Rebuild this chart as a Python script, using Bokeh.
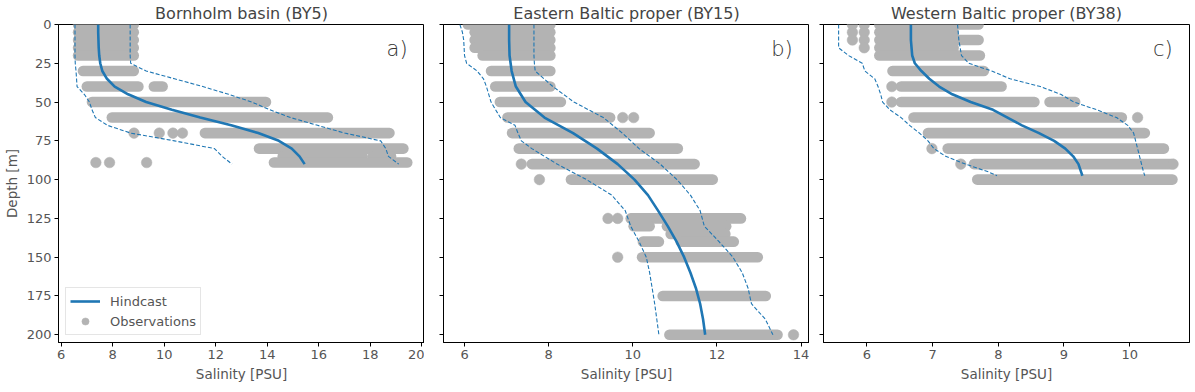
from bokeh.plotting import figure
from bokeh.models import (Range1d, Label, Legend, LegendItem, FixedTicker,
                          ColumnDataSource, CustomJSTickFormatter)
from bokeh.layouts import row
from bokeh.embed import file_html
from bokeh.resources import INLINE

# ---------------- data ----------------
titles = ["Bornholm basin (BY5)", "Eastern Baltic proper (BY15)", "Western Baltic proper (BY38)"]
panel_tags = ["a)", "b)", "c)"]
x_ticks = [[6, 8, 10, 12, 14, 16, 18, 20], [6, 8, 10, 12, 14], [6, 7, 8, 9, 10]]
y_ticks = [0, 25, 50, 75, 100, 125, 150, 175, 200]

# --- Bornholm basin (BY5) ---
h1_depth = [0, 5, 10, 15, 20, 25, 30, 35, 40, 45, 50, 55, 60, 65, 70, 75, 80, 85, 90]
h1_mean = [7.44, 7.44, 7.45, 7.46, 7.48, 7.52, 7.60, 7.78, 8.08, 8.60, 9.30, 10.30, 11.40,
           12.60, 13.65, 14.45, 14.95, 15.25, 15.45]
h1_low = [6.54, 6.54, 6.54, 6.54, 6.54, 6.55, 6.58, 6.60, 6.62, 6.90, 7.10, 7.20, 7.33,
          7.80, 8.70, 10.40, 11.95, 12.25, 12.63]
h1_high = [8.68, 8.68, 8.68, 8.68, 8.68, 8.70, 9.30, 10.40, 11.50, 12.50, 13.40, 14.10, 14.90,
           15.95, 17.00, 18.40, 18.60, 18.70, 19.10]
o1_row_depth = [0, 5, 10, 15, 20, 30, 40, 40, 50, 60, 70, 80, 85, 85, 89]
o1_row_min = [6.66, 6.66, 6.66, 6.66, 6.66, 6.85, 7.00, 9.60, 7.20, 7.97, 11.58, 13.68, 14.60, 18.10, 14.26]
o1_row_max = [8.82, 8.82, 8.82, 8.82, 8.82, 8.82, 9.00, 9.94, 13.95, 16.35, 18.74, 19.28, 17.70, 18.80, 19.43]
o1_pt_depth = [70, 70, 70, 70, 89, 89, 89]
o1_pt_sal = [8.83, 9.81, 10.34, 10.71, 7.35, 7.88, 9.32]

# --- Eastern Baltic proper (BY15) ---
h2_depth = [0, 10, 20, 30, 40, 50, 60, 70, 80, 90, 100, 110, 120, 130, 140, 150, 160, 170, 180, 190, 200]
h2_mean = [7.06, 7.06, 7.07, 7.12, 7.22, 7.45, 7.90, 8.58, 9.15, 9.64, 10.04, 10.36, 10.60,
           10.83, 11.04, 11.22, 11.37, 11.50, 11.60, 11.67, 11.72]
h2_low_depth = [0, 5, 10, 20, 25, 30, 35, 40, 50, 60, 65, 70, 75, 80, 90, 100, 110, 120, 130,
                140, 150, 160, 170, 180, 190, 200]
h2_low = [5.89, 5.95, 5.98, 6.00, 6.05, 6.30, 6.45, 6.52, 6.63, 6.85, 7.20, 7.27, 7.35, 7.60,
          8.20, 8.90, 9.50, 9.82, 9.95, 10.15, 10.32, 10.40, 10.46, 10.52, 10.57, 10.62]
h2_high_depth = [0, 10, 20, 25, 30, 40, 50, 60, 70, 80, 90, 100, 110, 120, 130, 140, 150, 160,
                 170, 180, 190, 200]
h2_high = [7.65, 7.65, 7.65, 7.66, 7.68, 8.10, 8.60, 9.30, 9.75, 10.15, 10.65, 11.05, 11.37,
           11.60, 11.70, 12.05, 12.38, 12.60, 12.74, 12.82, 13.15, 13.33]
o2_row_depth = [0, 5, 10, 15, 20, 30, 40, 50, 60, 70, 80, 90, 100, 125, 130, 130, 135, 140, 140,
                150, 175, 200]
o2_row_min = [6.08, 6.24, 6.24, 6.24, 6.43, 6.63, 6.73, 6.84, 7.02, 7.13, 7.29, 7.60, 8.53, 9.95,
              10.02, 10.81, 10.90, 10.24, 11.14, 10.22, 10.71, 10.87]
o2_row_max = [8.04, 8.04, 8.04, 8.04, 8.04, 8.04, 8.04, 8.29, 9.46, 10.40, 11.07, 11.47, 11.90,
              12.57, 10.40, 12.22, 12.20, 10.62, 12.40, 12.97, 13.16, 13.44]
o2_pt_depth = [60, 60, 90, 100, 125, 125, 150, 200]
o2_pt_sal = [9.76, 10.02, 7.35, 7.78, 9.41, 9.64, 9.64, 13.82]

# --- Western Baltic proper (BY38) ---
h3_depth = [0, 5, 10, 15, 20, 25, 30, 35, 40, 45, 50, 55, 60, 65, 70, 75, 80, 85, 90, 95, 97.5]
h3_mean = [6.67, 6.67, 6.67, 6.68, 6.69, 6.73, 6.83, 6.95, 7.10, 7.30, 7.58, 7.92, 8.14, 8.36,
           8.62, 8.85, 9.02, 9.14, 9.22, 9.26, 9.28]
h3_low = [5.57, 5.57, 5.57, 5.57, 5.72, 5.93, 5.97, 6.12, 6.17, 6.21, 6.24, 6.35, 6.52, 6.65,
          6.80, 6.93, 7.02, 7.20, 7.50, 7.85, 7.98]
h3_high = [7.38, 7.39, 7.40, 7.42, 7.44, 7.55, 7.90, 8.18, 8.64, 8.95, 9.15, 9.50, 9.80, 9.97,
           10.06, 10.09, 10.12, 10.15, 10.18, 10.21, 10.23]
o3_row_depth = [0, 5, 10, 15, 20, 30, 40, 50, 50, 60, 70, 80, 90, 100]
o3_row_min = [6.19, 6.19, 6.19, 6.19, 6.19, 6.39, 6.52, 6.52, 8.78, 6.71, 6.93, 7.23, 7.63, 7.68]
o3_row_max = [7.70, 7.32, 7.70, 7.32, 7.72, 7.78, 8.05, 8.55, 9.17, 9.88, 10.23, 10.52, 10.63, 10.65]
o3_pt_depth = [0, 5, 10, 0, 5, 10, 15, 40, 50, 60, 80, 90, 90]
o3_pt_sal = [5.78, 5.78, 5.78, 5.96, 5.96, 5.96, 5.96, 6.38, 6.38, 10.12, 6.99, 7.43, 10.66]

x_ranges = [(5.9, 20.1), (5.5, 14.2), (5.34, 10.91)]

panels = [
    dict(hd=h1_depth, hm=h1_mean, ld=h1_depth, lo=h1_low, ud=h1_depth, hi=h1_high,
         rd=o1_row_depth, rmin=o1_row_min, rmax=o1_row_max, pd=o1_pt_depth, ps=o1_pt_sal),
    dict(hd=h2_depth, hm=h2_mean, ld=h2_low_depth, lo=h2_low, ud=h2_high_depth, hi=h2_high,
         rd=o2_row_depth, rmin=o2_row_min, rmax=o2_row_max, pd=o2_pt_depth, ps=o2_pt_sal),
    dict(hd=h3_depth, hm=h3_mean, ld=h3_depth, lo=h3_low, ud=h3_depth, hi=h3_high,
         rd=o3_row_depth, rmin=o3_row_min, rmax=o3_row_max, pd=o3_pt_depth, ps=o3_pt_sal),
]

# ---------------- style ----------------
BLUE = "#1f77b4"
GRAY = "#b3b3b3"
TXT = "#555555"
FONT = "DejaVu Sans"
TAG_FONT = "DejaVu Sans Light, DejaVu Sans"
FW, FH = 366, 318
DOT = 10.6

figs = []
for i, pdat in enumerate(panels):
    xr = x_ranges[i]
    p = figure(frame_width=FW, frame_height=FH, x_range=Range1d(*xr),
               y_range=Range1d(205, 0), output_backend="svg", toolbar_location=None,
               title=titles[i])
    p.min_border_top = 0
    p.min_border_bottom = 0
    p.min_border_right = 0 if i < 2 else 2
    p.min_border_left = [0, 19, 14][i]
    p.background_fill_color = "white"
    p.border_fill_color = "white"
    p.outline_line_color = "black"
    p.outline_line_width = 1
    p.outline_line_alpha = 1
    p.xgrid.visible = False
    p.ygrid.visible = False

    p.title.align = "center"
    p.title.text_font = FONT
    p.title.text_font_size = "16px"
    p.title.text_font_style = "normal"
    p.title.text_color = "#444444"
    p.title.standoff = 3

    for ax in (p.xaxis[0], p.yaxis[0]):
        ax.axis_line_color = "black"
        ax.major_tick_line_color = "black"
        ax.major_tick_out = 4
        ax.major_tick_in = 0
        ax.minor_tick_line_color = None
        ax.major_label_text_font = FONT
        ax.major_label_text_font_size = "13px"
        ax.major_label_text_color = TXT
        ax.major_label_standoff = 3
        ax.axis_label_text_font = FONT
        ax.axis_label_text_font_size = "13.5px"
        ax.axis_label_text_font_style = "normal"
        ax.axis_label_text_color = TXT
        ax.axis_label_standoff = 4

    p.xaxis.ticker = FixedTicker(ticks=x_ticks[i])
    p.yaxis.ticker = FixedTicker(ticks=y_ticks)
    p.xaxis.axis_label = "Salinity [PSU]"
    if i == 0:
        p.yaxis.axis_label = "Depth [m]"
    else:
        p.yaxis.formatter = CustomJSTickFormatter(code="return ''")

    rows_src = ColumnDataSource(dict(depth=pdat["rd"], smin=pdat["rmin"], smax=pdat["rmax"]))
    p.segment(x0="smin", y0="depth", x1="smax", y1="depth", source=rows_src,
              line_color=GRAY, line_width=DOT, line_cap="round")
    pts = p.scatter(x=pdat["ps"], y=pdat["pd"], size=DOT, fill_color=GRAY, line_color=GRAY,
                    line_width=0.5)

    p.line(x=pdat["lo"], y=pdat["ld"], line_color=BLUE, line_width=1.1, line_dash="4 2")
    p.line(x=pdat["hi"], y=pdat["ud"], line_color=BLUE, line_width=1.1, line_dash="4 2")
    mean = p.line(x=pdat["hm"], y=pdat["hd"], line_color=BLUE, line_width=2.6)

    lab = Label(x=xr[1] - 0.046 * (xr[1] - xr[0]), y=16, text=panel_tags[i],
                text_align="right", text_baseline="middle",
                text_font=TAG_FONT, text_font_size="21px", text_color="#333333")
    p.add_layout(lab)

    if i == 0:
        legend = Legend(items=[LegendItem(label="Hindcast", renderers=[mean]),
                               LegendItem(label="Observations", renderers=[pts])],
                        location="bottom_left")
        legend.label_text_font = FONT
        legend.label_text_font_size = "13px"
        legend.label_text_color = TXT
        legend.border_line_color = "#cccccc"
        legend.border_line_width = 1
        legend.background_fill_alpha = 0.85
        legend.padding = 4
        legend.spacing = 2
        legend.margin = 7
        legend.glyph_width = 30
        legend.glyph_height = 18
        legend.label_standoff = 10
        legend.label_height = 18
        p.add_layout(legend)
    figs.append(p)

layout = row(*figs)
open("out.html", "w").write(file_html(layout, INLINE))
